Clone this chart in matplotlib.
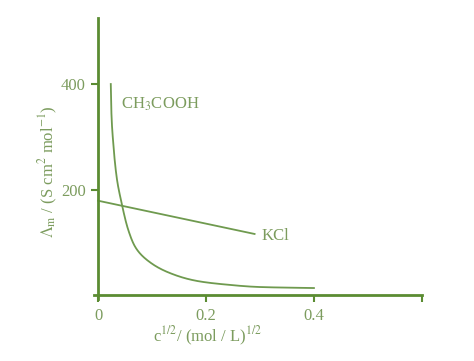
import matplotlib
matplotlib.use("Agg")
import matplotlib.pyplot as plt
import numpy as np

# Data
kcl_c = [0.0, 0.29]
kcl_lam = [179, 116]

ac_c = [0.0235, 0.0246, 0.0283, 0.0346, 0.0439, 0.0561, 0.0685, 0.0994, 0.133, 0.189, 0.239, 0.30, 0.40]
ac_lam = [400, 347, 285, 222, 173, 123, 92, 60, 42, 26, 20, 15.5, 13.6]

xticks = [0, 0.2, 0.4, 0.6]
xticklabels = ["0", "0.2", "0.4", ""]
yticks = [200, 400]
yticklabels = ["200", "400"]

axis_col = "#5b8c32"
line_col = "#6f9a4f"
text_col = "#7c9c5e"


def pchip(x, y, xn):
    x = np.asarray(x, float); y = np.asarray(y, float)
    h = np.diff(x); d = np.diff(y) / h
    m = np.zeros_like(y)
    for k in range(1, len(x) - 1):
        if d[k - 1] * d[k] > 0:
            w1 = 2 * h[k] + h[k - 1]; w2 = h[k] + 2 * h[k - 1]
            m[k] = (w1 + w2) / (w1 / d[k - 1] + w2 / d[k])
    m[0] = d[0]; m[-1] = d[-1]
    idx = np.clip(np.searchsorted(x, xn) - 1, 0, len(x) - 2)
    t = (xn - x[idx]) / h[idx]
    h00 = 2 * t**3 - 3 * t**2 + 1; h10 = t**3 - 2 * t**2 + t
    h01 = -2 * t**3 + 3 * t**2; h11 = t**3 - t**2
    return h00 * y[idx] + h10 * h[idx] * m[idx] + h01 * y[idx + 1] + h11 * h[idx] * m[idx + 1]


plt.rcParams['font.family'] = ['Liberation Serif', 'DejaVu Serif']
plt.rcParams['mathtext.fontset'] = 'stix'

fig = plt.figure(figsize=(4.74, 3.61), dpi=100)
ax = fig.add_axes([0.199, 0.172, 0.691, 0.778])

lx = np.linspace(np.log(ac_c[0]), np.log(ac_c[-1]), 400)
ly = pchip(np.log(ac_c), np.log(ac_lam), lx)
ax.plot(np.exp(lx), np.exp(ly), color=line_col, lw=1.3)
ax.plot(kcl_c, kcl_lam, color=line_col, lw=1.3)

ax.set_xlim(-0.007, 0.6)
ax.set_ylim(-7, 525)
for s in ['top', 'right']:
    ax.spines[s].set_visible(False)
ax.spines['left'].set_position(('data', 0))
ax.spines['bottom'].set_position(('data', 0))
for s in ['left', 'bottom']:
    ax.spines[s].set_color(axis_col)
    ax.spines[s].set_linewidth(2)

ax.set_xticks(xticks)
ax.set_xticklabels(xticklabels)
ax.set_yticks(yticks)
ax.set_yticklabels(yticklabels)
ax.tick_params(axis='both', direction='out', length=5, width=1.5, color=axis_col,
               labelcolor=text_col, labelsize=12, pad=4)

ax.text(0.042, 362, r"CH$_3$COOH", color=text_col, fontsize=12, va='center', ha='left')
ax.text(0.302, 112, "KCl", color=text_col, fontsize=12, va='center', ha='left')

fig.text(48/474, 1 - 172/361, r"$\Lambda_{\rm m}$ / (S cm$^2$ mol$^{-1}$)", rotation=90,
         color=text_col, fontsize=12, ha='center', va='center')
fig.text(207/474, 1 - 336/361, r"c$^{1/2}$/ (mol / L)$^{1/2}$", color=text_col,
         fontsize=12, ha='center', va='center')

fig.savefig("out.png", dpi=100)
